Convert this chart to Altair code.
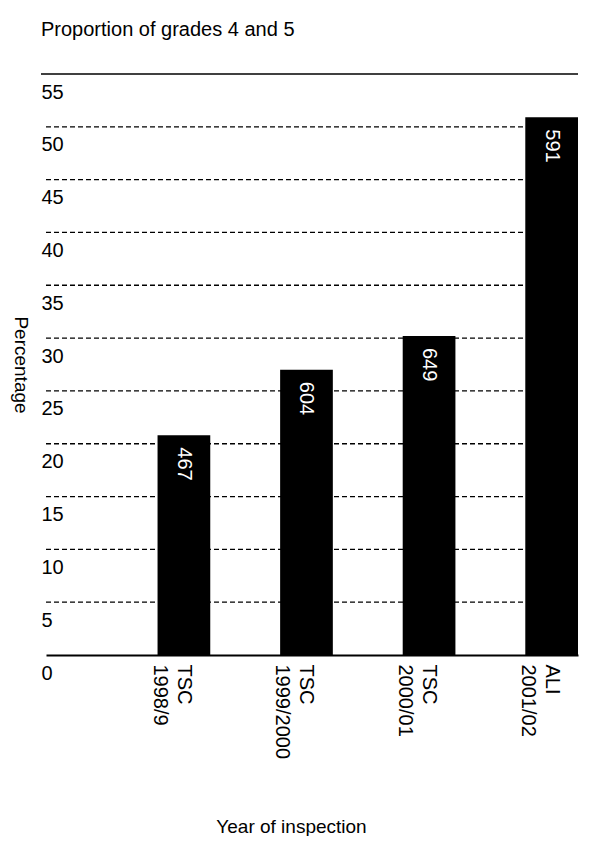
import pandas as pd
import altair as alt

# data
inspections = ["TSC\n1998/9", "TSC\n1999/2000", "TSC\n2000/01", "ALI\n2001/02"]
percent = [20.8, 27.0, 30.2, 50.9]
counts = ["467", "604", "649", "591"]
grid_vals = [5, 10, 15, 20, 25, 30, 35, 40, 45, 50]

df = pd.DataFrame({"year": inspections, "pct": percent, "n": counts})
grid = pd.DataFrame({"v": grid_vals})
FONT = "Liberation Sans"
W = 532

xs = alt.X("year:N", sort=inspections,
           scale=alt.Scale(paddingInner=0.57, paddingOuter=0.455, align=1),
           axis=alt.Axis(title="Year of inspection", labelAngle=90, labelAlign="left",
                         labelBaseline="middle", labelExpr="split(datum.label, '\\n')",
                         labelLineHeight=24, labelFontSize=20, labelFont=FONT, labelColor="black",
                         ticks=False, domain=True, domainColor="black", domainWidth=2,
                         labelPadding=9, titleFont=FONT, titleFontSize=19, titleFontWeight="normal",
                         titleX=245, titleY=162, titleAnchor="middle", titleColor="black"))
ys = alt.Y("pct:Q", scale=alt.Scale(domain=[0, 55], nice=False),
           axis=alt.Axis(title="Percentage", values=list(range(0, 56, 5)), grid=False,
                         ticks=False, domain=False, labelAlign="left", labelBaseline="top",
                         labelPadding=5, labelOffset=8, labelFontSize=20, labelFont=FONT,
                         labelColor="black", labelFlush=False, titleAngle=90, titleX=-36,
                         titleFont=FONT, titleFontSize=19, titleFontWeight="normal",
                         titleColor="black"))

bars = alt.Chart(df).mark_bar(color="black").encode(x=xs, y=ys)

gridlines = alt.Chart(grid).mark_rule(color="black", strokeDash=[5, 3], strokeWidth=1.3).encode(
    y=alt.Y("v:Q"), x=alt.value(0), x2=alt.value(W))

top = alt.Chart(pd.DataFrame({"v": [55]})).mark_rule(color="black", strokeWidth=1.5).encode(
    y=alt.Y("v:Q"), x=alt.value(-5), x2=alt.value(W))

labels = alt.Chart(df).mark_text(angle=90, align="left", baseline="middle", dx=12,
                                 color="white", fontSize=20, font=FONT).encode(
    x=alt.X("year:N", sort=inspections), y="pct:Q", text="n:N")

chart = alt.layer(gridlines, top, bars, labels).properties(
    width=W, height=581, padding={"left": 2, "top": 12, "right": 0, "bottom": 0},
    title=alt.TitleParams("Proportion of grades 4 and 5", anchor="start", frame="group",
                          font=FONT, fontSize=20, fontWeight="normal", offset=33, dx=-5,
                          color="black"),
).configure_view(stroke=None)

chart.save("out.html", embed_options={"renderer": "svg", "actions": False})
